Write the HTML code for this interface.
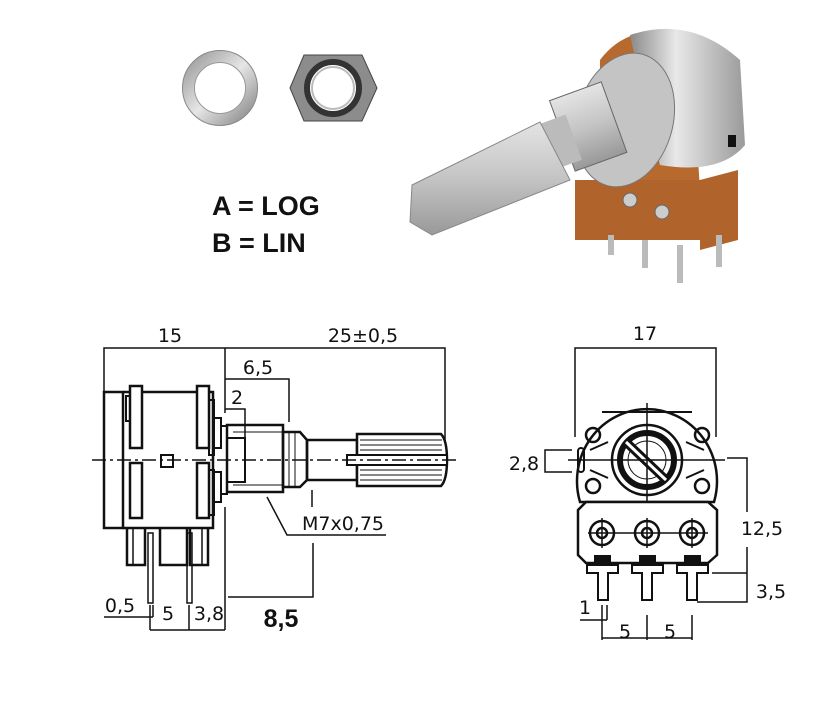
<!DOCTYPE html>
<html><head><meta charset="utf-8"><style>
html,body{margin:0;padding:0;background:#fff;}
svg{display:block;}
text{font-family:"DejaVu Sans","Liberation Sans",sans-serif;fill:#111;}
</style></head><body>
<svg width="827" height="709" viewBox="0 0 827 709" xmlns="http://www.w3.org/2000/svg">
<defs>
<linearGradient id="met" x1="0" y1="0" x2="1" y2="1"><stop offset="0" stop-color="#9a9a9a"/><stop offset="0.5" stop-color="#e6e6e6"/><stop offset="1" stop-color="#8a8a8a"/></linearGradient>
<linearGradient id="cyl" x1="0" y1="0" x2="1" y2="0"><stop offset="0" stop-color="#8a8a8a"/><stop offset="0.4" stop-color="#e8e8e8"/><stop offset="1" stop-color="#9a9a9a"/></linearGradient>
<linearGradient id="shaft" x1="0" y1="0" x2="0" y2="1"><stop offset="0" stop-color="#e4e4e4"/><stop offset="0.5" stop-color="#c4c4c4"/><stop offset="1" stop-color="#999"/></linearGradient>
</defs>

<!-- washer -->
<circle cx="220" cy="88" r="31.5" fill="none" stroke="url(#met)" stroke-width="12"/>
<circle cx="220" cy="88" r="37.5" fill="none" stroke="#888" stroke-width="1"/>
<circle cx="220" cy="88" r="25.5" fill="none" stroke="#999" stroke-width="1"/>
<!-- nut -->
<polygon points="290,88 304,55 362,55 377,88 362,121 304,121" fill="#8c8c8c" stroke="#444"/>
<circle cx="333" cy="88" r="26" fill="#fff" stroke="#333" stroke-width="6"/>
<circle cx="333" cy="88" r="21" fill="#fff" stroke="#bbb" stroke-width="2"/>

<text x="212" y="215" font-weight="bold" font-size="27" style="font-family:'Liberation Sans',sans-serif">A = LOG</text>
<text x="212" y="252" font-weight="bold" font-size="27" style="font-family:'Liberation Sans',sans-serif">B = LIN</text>

<!-- photo potentiometer -->
<g>
<path d="M600 60 Q630 20 690 35 L700 190 L600 175 Z" fill="#b86a2e"/>
<path d="M630 35 Q690 15 740 60 L745 145 Q720 175 660 165 L640 80 Z" fill="url(#cyl)"/>
<rect x="575" y="180" width="125" height="60" fill="#b0642b"/>
<polygon points="700,180 738,170 738,240 700,250" fill="#b0642b"/>
<rect x="608" y="235" width="6" height="20" fill="#bbb"/>
<rect x="642" y="240" width="6" height="28" fill="#bbb"/>
<rect x="677" y="245" width="6" height="38" fill="#bbb"/>
<rect x="716" y="235" width="6" height="32" fill="#bbb"/>
<circle cx="630" cy="200" r="7" fill="#ccc" stroke="#666"/>
<circle cx="662" cy="212" r="7" fill="#ccc" stroke="#666"/>
<ellipse cx="625" cy="120" rx="48" ry="68" fill="#c4c4c4" stroke="#777" transform="rotate(15 625 120)"/>
<rect x="560" y="90" width="55" height="75" fill="url(#shaft)" stroke="#666" transform="rotate(-20 585 125)"/>
<rect x="535" y="120" width="40" height="48" fill="#bbb" transform="rotate(-20 555 144)"/>
<polygon points="412,185 540,122 570,180 432,235 410,222" fill="url(#shaft)" stroke="#888"/>
<rect x="728" y="135" width="8" height="12" fill="#111"/>
</g>

<g fill="none" stroke="#111" stroke-width="2">
<polyline points="104,392 104,348 445,348 445,455" stroke-width="1.5"/>
<line x1="225" y1="348" x2="225" y2="413" stroke-width="1.5"/>
<polyline points="225,379 289,379 289,422" stroke-width="1.5"/>
<polyline points="225,409 245,409 245,442" stroke-width="1.5"/>
<rect x="104" y="392" width="19" height="136" stroke-width="2.5"/>
<polyline points="123,528 213,528 213,392 123,392" stroke-width="2.5"/>
<rect x="130" y="386" width="12" height="62" fill="#fff" stroke-width="2.5"/>
<rect x="130" y="463" width="12" height="55" fill="#fff" stroke-width="2.5"/>
<rect x="197" y="386" width="12" height="62" fill="#fff" stroke-width="2.5"/>
<rect x="197" y="463" width="12" height="55" fill="#fff" stroke-width="2.5"/>
<rect x="126" y="396" width="4" height="25"/>
<rect x="209" y="400" width="5" height="55"/>
<rect x="209" y="470" width="5" height="45"/>
<rect x="214" y="418" width="7" height="30"/>
<rect x="214" y="472" width="7" height="30"/>
<rect x="161" y="455" width="12" height="12"/>
<polyline points="221,426 227,426 227,494 221,494"/>
<rect x="227" y="438" width="18" height="44"/>
<rect x="227" y="425" width="56" height="67" stroke-width="2.5"/>
<line x1="233" y1="432" x2="283" y2="432" stroke-width="1"/>
<line x1="233" y1="485" x2="283" y2="485" stroke-width="1"/>
<path d="M283 432 L300 432 L307 440 L307 480 L300 487 L283 487 Z" stroke-width="2.5"/>
<line x1="289" y1="432" x2="289" y2="487" stroke-width="1"/>
<line x1="295" y1="432" x2="295" y2="487" stroke-width="1"/>
<rect x="307" y="440" width="50" height="40" stroke-width="2.5"/>
<path d="M357 434 L441 434 Q447 440 447 460 Q447 480 441 486 L357 486 Z" stroke-width="2.5" fill="#fff"/>
<g stroke-width="1">
<line x1="360" y1="440" x2="442" y2="440"/><line x1="360" y1="445" x2="442" y2="445"/><line x1="360" y1="450" x2="442" y2="450"/>
<line x1="360" y1="470" x2="442" y2="470"/><line x1="360" y1="475" x2="442" y2="475"/><line x1="360" y1="480" x2="442" y2="480"/>
</g>
<rect x="347" y="455" width="100" height="10" fill="#fff" stroke-width="2"/>
<line x1="92" y1="460" x2="460" y2="460" stroke-width="1.5" stroke-dasharray="14,4,3,4"/>
<polyline points="267,497 287,535 386,535" stroke-width="1.5"/>
<line x1="312" y1="490" x2="312" y2="507" stroke-width="1.5"/>
<polyline points="313,543 313,597 228,597" stroke-width="1.5"/>
<line x1="225" y1="507" x2="225" y2="630" stroke-width="1.5"/>
<polyline points="127,528 127,565 145,565 145,528" stroke-width="2.5"/>
<polyline points="160,528 160,565 187,565 187,528" stroke-width="2.5"/>
<polyline points="190,528 190,565 208,565 208,528" stroke-width="2.5"/>
<line x1="133" y1="528" x2="133" y2="565" stroke-width="1.5"/>
<line x1="202" y1="528" x2="202" y2="565" stroke-width="1.5"/>
<rect x="148" y="533" width="5" height="70" stroke-width="1.5"/>
<rect x="187" y="533" width="5" height="70" stroke-width="1.5"/>
<polyline points="104,617 153,617" stroke-width="1.5"/>
<line x1="150" y1="605" x2="150" y2="630" stroke-width="1.5"/>
<line x1="153" y1="605" x2="153" y2="617" stroke-width="1.5"/>
<line x1="189" y1="605" x2="189" y2="630" stroke-width="1.5"/>
<line x1="150" y1="630" x2="225" y2="630" stroke-width="1.5"/>

<!-- front view -->
<polyline points="575,437 575,348 716,348 716,437" stroke-width="1.5"/>
<path d="M580 502 A70 72 0 1 1 714 502 Z" stroke-width="2.5" fill="#fff"/>
<line x1="602" y1="412" x2="692" y2="412" stroke-width="2"/>
<line x1="608" y1="442" x2="590" y2="450" stroke-width="2"/>
<line x1="608" y1="478" x2="590" y2="470" stroke-width="2"/>
<line x1="686" y1="442" x2="704" y2="450" stroke-width="2"/>
<line x1="686" y1="478" x2="704" y2="470" stroke-width="2"/>
<rect x="578" y="448" width="6" height="24" rx="3" stroke-width="2"/>
<circle cx="647" cy="460" r="35" stroke-width="2.5"/>
<circle cx="647" cy="460" r="27" stroke-width="6"/>
<circle cx="647" cy="460" r="19" stroke-width="1"/>
<line x1="626" y1="442" x2="666" y2="480" stroke-width="9"/>
<line x1="626" y1="442" x2="666" y2="480" stroke="#fff" stroke-width="3"/>
<circle cx="593" cy="435" r="7" stroke-width="2.5"/>
<circle cx="702" cy="435" r="7" stroke-width="2.5"/>
<circle cx="593" cy="486" r="7" stroke-width="2.5"/>
<circle cx="702" cy="486" r="7" stroke-width="2.5"/>
<line x1="647" y1="403" x2="647" y2="520" stroke-width="1.5"/>
<line x1="568" y1="460" x2="725" y2="460" stroke-width="1.5"/>
<path d="M586 502 L708 502 L717 510 L717 555 L708 563 L586 563 L578 555 L578 510 Z" stroke-width="2.5" fill="#fff"/>
<g stroke-width="2.5">
<circle cx="602" cy="533" r="12"/><circle cx="602" cy="533" r="5"/>
<circle cx="647" cy="533" r="12"/><circle cx="647" cy="533" r="5"/>
<circle cx="692" cy="533" r="12"/><circle cx="692" cy="533" r="5"/>
</g>
<line x1="588" y1="533" x2="708" y2="533" stroke-width="1.5"/>
<line x1="602" y1="518" x2="602" y2="548" stroke-width="1.5"/>
<line x1="647" y1="518" x2="647" y2="548" stroke-width="1.5"/>
<line x1="692" y1="518" x2="692" y2="548" stroke-width="1.5"/>
<g fill="#111" stroke="none">
<rect x="594" y="555" width="17" height="9"/><rect x="639" y="555" width="17" height="9"/><rect x="684" y="555" width="17" height="9"/>
</g>
<g stroke-width="2">
<path d="M587 565 L618 565 L618 573 L608 573 L608 600 L598 600 L598 573 L587 573 Z"/>
<path d="M632 565 L663 565 L663 573 L652 573 L652 600 L642 600 L642 573 L632 573 Z"/>
<path d="M677 565 L708 565 L708 573 L697 573 L697 600 L687 600 L687 573 L677 573 Z"/>
</g>
<polyline points="572,450 545,450 545,472 572,472" stroke-width="1.5"/>
<polyline points="727,458 747,458 747,512" stroke-width="1.5"/>
<polyline points="747,547 747,602 697,602" stroke-width="1.5"/>
<line x1="712" y1="573" x2="747" y2="573" stroke-width="1.5"/>
<line x1="580" y1="620" x2="607" y2="620" stroke-width="1.5"/>
<line x1="602" y1="605" x2="602" y2="640" stroke-width="1.5"/>
<line x1="607" y1="605" x2="607" y2="620" stroke-width="1.5"/>
<line x1="647" y1="615" x2="647" y2="640" stroke-width="1.5"/>
<line x1="692" y1="615" x2="692" y2="640" stroke-width="1.5"/>
<line x1="602" y1="638" x2="692" y2="638" stroke-width="1.5"/>
</g>

<g font-size="19">
<text x="170" y="342" text-anchor="middle">15</text>
<text x="363" y="342" text-anchor="middle">25±0,5</text>
<text x="258" y="374" text-anchor="middle">6,5</text>
<text x="237" y="404" text-anchor="middle">2</text>
<text x="343" y="530" text-anchor="middle">M7x0,75</text>
<text x="120" y="612" text-anchor="middle">0,5</text>
<text x="168" y="620" text-anchor="middle">5</text>
<text x="209" y="620" text-anchor="middle">3,8</text>
<text x="645" y="340" text-anchor="middle">17</text>
<text x="524" y="470" text-anchor="middle">2,8</text>
<text x="762" y="535" text-anchor="middle">12,5</text>
<text x="771" y="598" text-anchor="middle">3,5</text>
<text x="585" y="614" text-anchor="middle">1</text>
<text x="625" y="638" text-anchor="middle">5</text>
<text x="670" y="638" text-anchor="middle">5</text>
</g>
<text x="281" y="627" text-anchor="middle" font-size="25" font-weight="bold" style="font-family:'Liberation Sans',sans-serif">8,5</text>
</svg>
</body></html>
